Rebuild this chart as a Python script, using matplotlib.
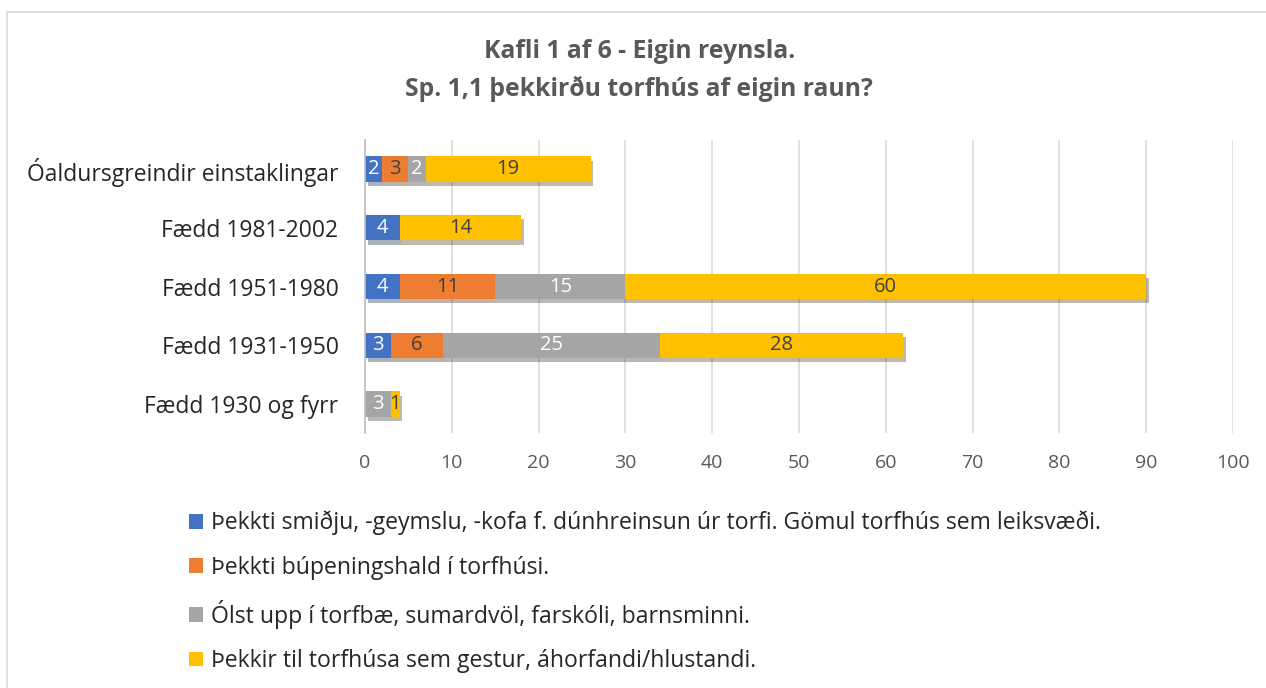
import numpy as np
import matplotlib.pyplot as plt
import matplotlib.patheffects as pe
from matplotlib.patches import Rectangle, Patch

plt.rcParams['font.family'] = ['Open Sans', 'DejaVu Sans']

categories = ['Óaldursgreindir einstaklingar', 'Fædd 1981-2002', 'Fædd 1951-1980',
              'Fædd 1931-1950', 'Fædd 1930 og fyrr']
series_names = ['Þekkti smiðju, -geymslu, -kofa f. dúnhreinsun úr torfi. Gömul torfhús sem leiksvæði.',
                'Þekkti búpeningshald í torfhúsi.',
                'Ólst upp í torfbæ, sumardvöl, farskóli, barnsminni.',
                'Þekkir til torfhúsa sem gestur, áhorfandi/hlustandi.']
smidja = [2, 4, 4, 3, 0]
bupeningur = [3, 0, 11, 6, 0]
torfbaer = [2, 0, 15, 25, 3]
gestur = [19, 14, 60, 28, 1]
xticks = [0, 10, 20, 30, 40, 50, 60, 70, 80, 90, 100]

colors = ['#4472C4', '#ED7D31', '#A5A5A5', '#FFC000']
text_colors = ['white', '#404040', 'white', '#404040']

fig = plt.figure(figsize=(12.66, 6.88), dpi=100)
ax = fig.add_axes([0.2883, 0.370, 0.6857, 0.427])

y = np.arange(len(categories))
left = np.zeros(len(categories))
shadow = [pe.SimplePatchShadow(offset=(2, -3), alpha=0.35), pe.Normal()]
for vals, col, tcol in zip([smidja, bupeningur, torfbaer, gestur], colors, text_colors):
    vals = np.array(vals, dtype=float)
    bars = ax.barh(y, vals, left=left, height=0.43, color=col, zorder=3)
    for b in bars:
        b.set_path_effects(shadow)
    for yi, v, l in zip(y, vals, left):
        if v > 0:
            ax.text(l + v / 2, yi, '%d' % v, ha='center', va='center',
                    fontsize=14.5, color=tcol, zorder=4)
    left += vals

ax.set_xlim(0, 100)
ax.set_ylim(len(categories) - 0.5, -0.5)
ax.set_yticks(y)
ax.set_yticklabels(categories, fontsize=16.5, color='#262626')
ax.set_xticks(xticks)
ax.tick_params(axis='x', labelsize=14, colors='#595959', length=0, pad=15)
ax.tick_params(axis='y', length=0, pad=19)
ax.grid(axis='x', color='#d9d9d9', linewidth=1.2, zorder=0)
for s in ['top', 'right', 'bottom']:
    ax.spines[s].set_visible(False)
ax.spines['left'].set_color('#bfbfbf')
ax.spines['left'].set_linewidth(1.2)
ax.spines['left'].set_zorder(5)

fig.text(0.505, 0.925, 'Kafli 1 af 6 - Eigin reynsla.', ha='center', va='center',
         fontsize=17.8, fontweight='bold', color='#595959')
fig.text(0.505, 0.870, 'Sp. 1,1 þekkirðu torfhús af eigin raun?', ha='center', va='center',
         fontsize=17.8, fontweight='bold', color='#595959')

handles = [Patch(facecolor=c) for c in colors]
leg = fig.legend(handles, series_names, loc='upper left', bbox_to_anchor=(0.142, 0.271),
                 frameon=False, fontsize=16.6, labelspacing=0.88, handlelength=0.6,
                 handleheight=0.6, handletextpad=0.35, borderaxespad=0)
for t in leg.get_texts():
    t.set_color('#262626')

fig.patches.append(Rectangle((0.0055, -0.01), 1.0, 0.992, transform=fig.transFigure,
                             fill=False, edgecolor='#d9d9d9', linewidth=1.2))

fig.savefig('out.png', dpi=100)
